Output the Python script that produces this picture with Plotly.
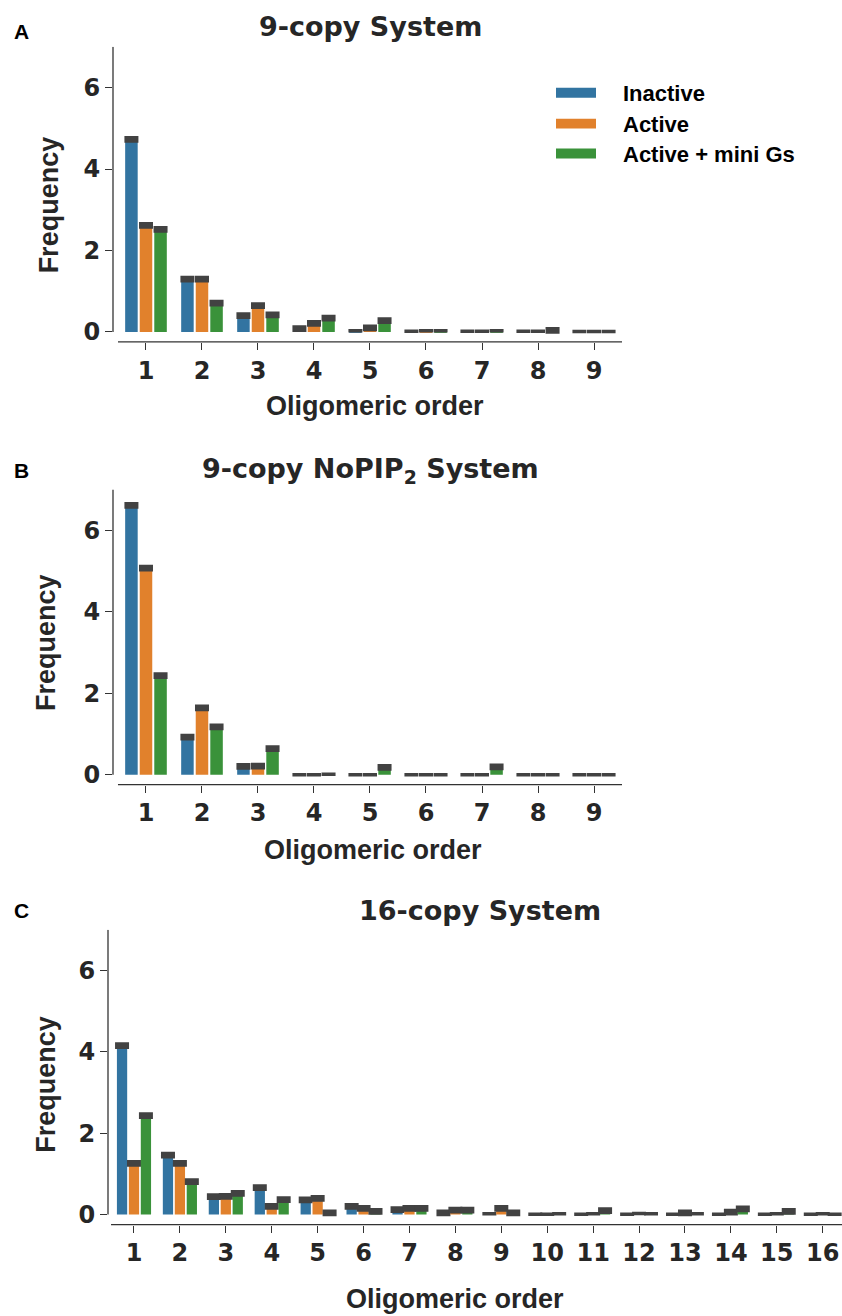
import plotly.graph_objects as go

# ---------------- data ----------------
series_names = ["Inactive", "Active", "Active + mini Gs"]
series_colors = ["#3274a1", "#e1812c", "#3a923a"]

cats_9 = ["1", "2", "3", "4", "5", "6", "7", "8", "9"]
cats_16 = [str(i) for i in range(1, 17)]

# Panel A: 9-copy System
a_inactive = [4.73, 1.30, 0.40, 0.08, 0.03, 0.02, 0.02, 0.02, 0.01]
a_active = [2.62, 1.30, 0.65, 0.21, 0.10, 0.03, 0.02, 0.02, 0.01]
a_mini = [2.52, 0.71, 0.42, 0.34, 0.28, 0.03, 0.03, 0.04, 0.01]

# Panel B: 9-copy NoPIP2 System
b_inactive = [6.61, 0.92, 0.20, 0.00, 0.00, 0.00, 0.00, 0.00, 0.00]
b_active = [5.07, 1.64, 0.21, 0.00, 0.00, 0.00, 0.00, 0.00, 0.00]
b_mini = [2.43, 1.17, 0.64, 0.01, 0.18, 0.00, 0.19, 0.00, 0.00]

# Panel C: 16-copy System
c_inactive = [4.15, 1.46, 0.44, 0.66, 0.36, 0.20, 0.12, 0.04, 0.02, 0.01, 0.01, 0.01, 0.01, 0.01, 0.01, 0.01]
c_active = [1.26, 1.26, 0.45, 0.20, 0.40, 0.15, 0.15, 0.11, 0.15, 0.01, 0.02, 0.03, 0.04, 0.06, 0.02, 0.02]
c_mini = [2.43, 0.81, 0.52, 0.37, 0.04, 0.08, 0.15, 0.11, 0.04, 0.02, 0.10, 0.02, 0.02, 0.14, 0.08, 0.01]

ci_half = 0.04  # approximate half-width of the confidence interval caps

titles = ["9-copy System", "9-copy NoPIP<sub>2</sub> System", "16-copy System"]
letters = ["A", "B", "C"]
ytick_vals = [0, 2, 4, 6]

W, H = 842, 1316
TXT = "#262626"
LINE = "#333333"

def px(x):
    return x / W

def py(y):
    return 1 - y / H

panels = [
    dict(cats=cats_9, vals=[a_inactive, a_active, a_mini], ax="", left=113, right=622,
         top=47, zero=333, xr=[-0.589, 8.5], title_y=27, title_x=370, letter_y=32,
         ylab=(49, 206), xlab=(375, 407)),
    dict(cats=cats_9, vals=[b_inactive, b_active, b_mini], ax="2", left=113, right=622,
         top=491, zero=777, xr=[-0.589, 8.5], title_y=472, title_x=370, letter_y=472,
         ylab=(46, 645), xlab=(373, 853)),
    dict(cats=cats_16, vals=[c_inactive, c_active, c_mini], ax="3", left=108, right=842,
         top=932.5, zero=1218.3, xr=[-0.566, 15.42], title_y=913, title_x=480, letter_y=913,
         ylab=(46, 1088), xlab=(455, 1303)),
]

fig = go.Figure()
shapes = []
annotations = []
layout_axes = {}

for p_i, p in enumerate(panels):
    ax = p["ax"]
    unit = (p["zero"] - p["top"]) / 7.0
    bottom_px = p["zero"] + 10
    ybot = -(bottom_px - p["zero"]) / unit
    for s_i in range(3):
        vals = p["vals"][s_i]
        errs = [ci_half if v > 0.03 else 0.0 for v in vals]
        fig.add_trace(go.Bar(
            x=p["cats"], y=vals, name=series_names[s_i],
            marker=dict(color=series_colors[s_i], line=dict(width=0)),
            error_y=dict(type="data", array=errs, symmetric=True, color="#424242",
                         thickness=3.5, width=7),
            xaxis="x" + ax, yaxis="y" + ax, showlegend=False,
        ))
    layout_axes["xaxis" + ax] = dict(
        domain=[px(p["left"]), px(p["right"])], anchor="y" + ax, type="category",
        range=p["xr"], showgrid=False, zeroline=False, showline=False,
        ticks="outside", ticklen=7, tickwidth=1.3, tickcolor=LINE,
        tickfont=dict(family="DejaVu Sans", size=24, color=TXT, weight="bold"),
        fixedrange=True,
    )
    layout_axes["yaxis" + ax] = dict(
        domain=[py(bottom_px), py(p["top"])], anchor="x" + ax,
        range=[ybot, 7], showgrid=False, zeroline=False, showline=False,
        tickvals=ytick_vals, ticks="outside", ticklen=7, tickwidth=1.3, tickcolor=LINE,
        tickfont=dict(family="DejaVu Sans", size=24, color=TXT, weight="bold"),
        fixedrange=True,
    )
    # left spine (0 to 7)
    shapes.append(dict(type="line", xref="x" + ax + " domain", yref="y" + ax,
                       x0=0, x1=0, y0=0, y1=7, line=dict(color=LINE, width=1.3)))
    # bottom spine (offset)
    shapes.append(dict(type="line", xref="x" + ax, yref="y" + ax + " domain",
                       x0=-0.5, x1=len(p["cats"]) - 0.5, y0=0, y1=0,
                       line=dict(color=LINE, width=1.3)))
    # title
    annotations.append(dict(text=titles[p_i], x=px(p["title_x"]), y=py(p["title_y"]),
                            xref="paper", yref="paper", showarrow=False,
                            xanchor="center", yanchor="middle",
                            font=dict(family="DejaVu Sans", size=27, color=TXT, weight="bold")))
    annotations.append(dict(text=letters[p_i], x=px(12), y=py(p["letter_y"]),
                            xref="paper", yref="paper", showarrow=False,
                            xanchor="left", yanchor="middle",
                            font=dict(family="Liberation Sans", size=21, color="#000000", weight="bold")))
    annotations.append(dict(text="Frequency", x=px(p["ylab"][0]), y=py(p["ylab"][1]),
                            xref="paper", yref="paper", showarrow=False, textangle=-90,
                            xanchor="center", yanchor="middle",
                            font=dict(family="Liberation Sans", size=27, color=TXT, weight="bold")))
    annotations.append(dict(text="Oligomeric order", x=px(p["xlab"][0]), y=py(p["xlab"][1]),
                            xref="paper", yref="paper", showarrow=False,
                            xanchor="center", yanchor="middle",
                            font=dict(family="Liberation Sans", size=27, color=TXT, weight="bold")))

# manual legend (panel A)
leg_y = [93, 124, 154]
for s_i in range(3):
    shapes.append(dict(type="rect", xref="paper", yref="paper",
                       x0=px(556), x1=px(596), y0=py(leg_y[s_i] + 5), y1=py(leg_y[s_i] - 5),
                       fillcolor=series_colors[s_i], line=dict(width=0)))
    annotations.append(dict(text=series_names[s_i], x=px(621), y=py(leg_y[s_i] + 1),
                            xref="paper", yref="paper", showarrow=False,
                            xanchor="left", yanchor="middle",
                            font=dict(family="Liberation Sans", size=22, color="#000000", weight="bold")))

fig.update_layout(
    width=W, height=H, margin=dict(l=0, r=0, t=0, b=0),
    paper_bgcolor="white", plot_bgcolor="white",
    barmode="group", bargap=0.22, bargroupgap=0.14,
    shapes=shapes, annotations=annotations, showlegend=False,
    **layout_axes,
)

fig.write_html("out.html")
